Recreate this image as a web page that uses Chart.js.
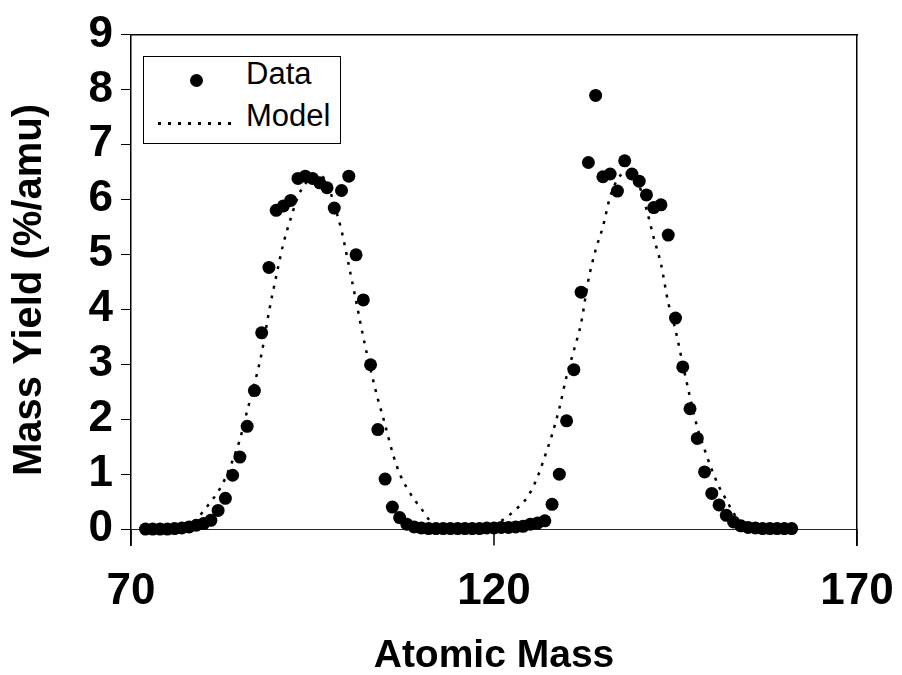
<!DOCTYPE html>
<html>
<head>
<meta charset="utf-8">
<script src="https://cdn.jsdelivr.net/npm/chart.js@4.4.1/dist/chart.umd.min.js"></script>
<style>
  html, body { margin: 0; padding: 0; background: #fff; }
  #wrap { position: relative; width: 902px; height: 675px; }
  .lg { position: absolute; font-family: 'Liberation Sans', Arial, sans-serif; font-size: 31px; line-height: 31px; color: #000; white-space: nowrap; }
  #legendBox { position: absolute; left: 143px; top: 56px; width: 196px; height: 86px; border: 1.5px solid #000; background: #fff; }
  #legendDot { position: absolute; left: 190px; top: 74px; width: 13px; height: 13px; border-radius: 50%; background: #000; }
  #legendLine { position: absolute; left: 158px; top: 122px; width: 76px; height: 2.5px;
    background-image: repeating-linear-gradient(to right, #000 0 3px, transparent 3px 10px); }
</style>
</head>
<body>
<div id="wrap">
  <canvas id="massYieldChart" width="902" height="675"></canvas>
  <div id="legendBox"></div>
  <div id="legendDot"></div>
  <div class="lg" style="left:246px; top:58px;">Data</div>
  <div id="legendLine"></div>
  <div class="lg" style="left:246px; top:100px;">Model</div>
</div>
<script>
// 질량수 (x)
const massNumbers = [
  72, 73, 74, 75, 76, 77, 78, 79, 80, 81, 82, 83, 84, 85, 86, 87, 88, 89, 90, 91,
  92, 93, 94, 95, 96, 97, 98, 99, 100, 101, 102, 103, 104, 105, 106, 107, 108, 109, 110, 111,
  112, 113, 114, 115, 116, 117, 118, 119, 120, 121, 122, 123, 124, 125, 126, 127, 128, 129, 130, 131,
  132, 133, 134, 135, 136, 137, 138, 139, 140, 141, 142, 143, 144, 145, 146, 147, 148, 149, 150, 151,
  152, 153, 154, 155, 156, 157, 158, 159, 160, 161
];

// 측정값 (%/amu)
const dataYield = [
  0.00, 0.00, 0.00, 0.00, 0.01, 0.02, 0.04, 0.07, 0.10, 0.16, 0.34, 0.56, 0.98, 1.31, 1.87, 2.52, 3.57, 4.76, 5.80, 5.88,
  5.98, 6.38, 6.42, 6.38, 6.30, 6.21, 5.84, 6.16, 6.42, 4.99, 4.17, 2.99, 1.81, 0.91, 0.40, 0.21, 0.09, 0.04, 0.02, 0.01,
  0.01, 0.01, 0.01, 0.01, 0.01, 0.01, 0.01, 0.02, 0.02, 0.03, 0.03, 0.04, 0.05, 0.09, 0.11, 0.15, 0.45, 1.00, 1.97, 2.90,
  4.31, 6.67, 7.89, 6.41, 6.46, 6.15, 6.70, 6.46, 6.33, 6.08, 5.85, 5.90, 5.35, 3.84, 2.95, 2.19, 1.65, 1.04, 0.65, 0.44,
  0.25, 0.13, 0.06, 0.03, 0.02, 0.01, 0.01, 0.01, 0.01, 0.01
];

// 모델 곡선 (%/amu)
const modelYield = [
  0.00, 0.00, 0.00, 0.00, 0.00, 0.03, 0.07, 0.18, 0.33, 0.50, 0.68, 0.93, 1.25, 1.63, 2.15, 2.64, 3.20, 3.95, 4.60, 5.20,
  5.65, 6.05, 6.28, 6.40, 6.43, 6.30, 5.90, 5.43, 4.80, 4.15, 3.49, 2.90, 2.37, 1.90, 1.40, 1.01, 0.75, 0.54, 0.37, 0.18,
  0.05, 0.01, 0.00, 0.00, 0.00, 0.00, 0.00, 0.02, 0.08, 0.15, 0.24, 0.36, 0.48, 0.67, 0.95, 1.32, 1.72, 2.20, 2.78, 3.25,
  3.75, 4.53, 5.08, 5.50, 6.05, 6.36, 6.48, 6.45, 6.25, 5.82, 5.30, 4.82, 4.12, 3.62, 3.00, 2.40, 1.85, 1.45, 1.08, 0.77,
  0.53, 0.29, 0.13, 0.04, 0.00, 0.00, 0.00, 0.00, 0.00, 0.00
];

const xTickValues = [70, 120, 170];
const yTickValues = [0, 1, 2, 3, 4, 5, 6, 7, 8, 9];

const AXIS_FONT = "'Liberation Sans', Arial, sans-serif";

/**
 * x축 눈금선: y=0 선에서 플롯 아래쪽 테두리까지
 */
const xTickMarks = {
  id: 'xTickMarks',
  beforeDatasetsDraw(chart) {
    const { ctx, chartArea, scales } = chart;
    const y0 = scales.y.getPixelForValue(0);
    ctx.save();
    ctx.strokeStyle = '#000';
    ctx.lineWidth = 1.5;
    xTickValues.forEach(v => {
      const px = scales.x.getPixelForValue(v);
      ctx.beginPath();
      ctx.moveTo(px, y0);
      ctx.lineTo(px, chartArea.bottom);
      ctx.stroke();
    });
    ctx.restore();
  }
};

function buildChart() {
  const ctx = document.getElementById('massYieldChart');
  const points = arr => massNumbers.map((m, i) => ({ x: m, y: arr[i] }));

  new Chart(ctx, {
    type: 'scatter',
    data: {
      datasets: [
        {
          label: 'Data',
          data: points(dataYield),
          pointRadius: 6.5,
          pointBackgroundColor: '#000',
          pointBorderWidth: 0,
          showLine: false,
          order: 0
        },
        {
          label: 'Model',
          type: 'line',
          data: points(modelYield),
          borderColor: '#000',
          borderWidth: 2.5,
          borderDash: [3, 7],
          pointRadius: 0,
          cubicInterpolationMode: 'monotone',
          fill: false,
          order: 1
        }
      ]
    },
    options: {
      responsive: false,
      animation: false,
      devicePixelRatio: 1,
      layout: { padding: { top: 32, right: 45, left: 0, bottom: 0 } },
      plugins: { legend: { display: false }, tooltip: { enabled: false } },
      scales: {
        x: {
          type: 'linear',
          position: 'bottom',
          min: 70,
          max: 170,
          afterBuildTicks: s => { s.ticks = xTickValues.map(v => ({ value: v })); },
          afterFit: s => { s.height = 129.4; s.paddingLeft = 0; s.paddingRight = 0; },
          border: { display: false },
          grid: { display: false },
          ticks: {
            color: '#000',
            padding: 12,
            maxRotation: 0,
            autoSkip: false,
            font: { family: AXIS_FONT, size: 44, weight: 'bold' }
          },
          title: {
            display: true,
            text: 'Atomic Mass',
            color: '#000',
            padding: { top: 0, bottom: 0 },
            font: { family: AXIS_FONT, size: 39, weight: 'bold', lineHeight: 0.95 }
          }
        },
        xTop: {
          type: 'linear',
          position: 'top',
          min: 70,
          max: 170,
          ticks: { display: false },
          grid: { display: false },
          border: { display: true, color: '#000', width: 1.5 },
          afterFit: s => { s.height = 0; s.paddingLeft = 0; s.paddingRight = 0; }
        },
        y: {
          type: 'linear',
          position: 'left',
          min: -0.3,
          max: 9,
          afterBuildTicks: s => { s.ticks = yTickValues.map(v => ({ value: v })); },
          afterFit: s => { s.width = 131; },
          border: { display: true, color: '#000', width: 1.5 },
          grid: {
            drawOnChartArea: true,
            color: c => (c.tick && c.tick.value === 0 ? '#222' : 'rgba(0,0,0,0)'),
            tickColor: '#000',
            tickLength: 10,
            lineWidth: 1
          },
          ticks: {
            color: '#000',
            padding: 8,
            font: { family: AXIS_FONT, size: 44, weight: 'bold' }
          },
          title: {
            display: true,
            text: 'Mass Yield (%/amu)',
            color: '#000',
            padding: { top: 6, bottom: 0 },
            font: { family: AXIS_FONT, size: 40, weight: 'bold', lineHeight: 1.2 }
          }
        },
        yRight: {
          type: 'linear',
          position: 'right',
          min: -0.3,
          max: 9,
          ticks: { display: false },
          grid: { display: false },
          border: { display: true, color: '#000', width: 1.5 },
          afterFit: s => { s.width = 0; }
        }
      }
    },
    plugins: [xTickMarks]
  });
}

window.onload = buildChart;
</script>
</body>
</html>
